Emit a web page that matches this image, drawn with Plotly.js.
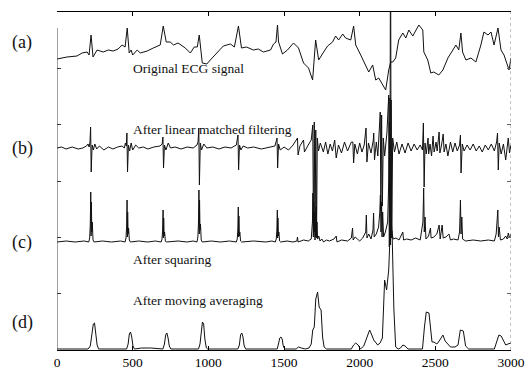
<!DOCTYPE html>
<html><head><meta charset="utf-8">
<script src="https://cdn.plot.ly/plotly-3.0.1.min.js"></script>
<style>html,body{margin:0;padding:0;background:#fff}</style>
</head><body>
<div id="chart" style="width:525px;height:370px"></div>
<script>
// Sample index axis
const xTicks = [0, 500, 1000, 1500, 2000, 2500, 3000];

// (a) Original ECG signal (sample index, amplitude relative to its baseline)
const aX = [0,66,132,166,199,212,225,238,265,305,340,371,404,430,450,464,477,490,500,530,550,596,636,682,702,722,748,770,800,848,881,907,927,940,960,990,1013,1060,1099,1146,1172,1199,1219,1252,1298,1330,1364,1411,1431,1447,1457,1464,1490,1523,1563,1596,1629,1662,1689,1709,1729,1762,1788,1821,1841,1861,1888,1907,1941,1960,1974,2007,2040,2060,2086,2106,2126,2152,2172,2192,2205,2219,2238,2258,2285,2305,2325,2351,2371,2391,2417,2424,2450,2470,2490,2523,2550,2583,2616,2636,2655,2669,2680,2702,2735,2768,2801,2821,2848,2868,2888,2914,2934,2954,2987,3000];
const aY = [0,2,3,6,7,4,24,2,9,7,9,8,10,14,12,31,6,9,4,9,6,8,11,14,33,17,17,14,16,11,6,12,12,24,-4,-5,-1,7,13,15,12,33,11,12,9,10,7,9,15,17,34,17,5,9,16,11,-4,-9,-21,19,-1,7,13,17,23,19,25,21,19,33,14,4,-6,-13,-6,-21,-19,-26,-31,-11,-3,-3,1,19,26,21,29,23,29,34,29,7,-1,-14,-13,-16,-11,1,9,14,9,26,7,-1,1,-3,14,27,24,27,14,31,9,4,-11,1];

// (b) After linear matched filtering
const bX = [0,30,60,100,140,170,195,205,212,218,222,226,232,240,250,262,280,310,340,370,400,430,445,452,458,462,466,472,480,490,500,520,540,570,600,640,680,695,700,704,710,720,735,750,780,820,860,900,925,932,937,941,947,955,970,990,1030,1070,1110,1150,1185,1196,1200,1206,1215,1230,1260,1300,1350,1400,1440,1454,1458,1464,1475,1500,1530,1560,1589,1593,1605,1629,1635,1660,1680,1690,1695,1700,1705,1710,1715,1720,1728,1740,1760,1775,1790,1805,1820,1835,1845,1860,1880,1900,1920,1945,1955,1960,1968,1985,2000,2015,2030,2042,2048,2058,2075,2090,2093,2098,2110,2120,2132,2136,2140,2145,2150,2156,2165,2180,2192,2196,2200,2204,2208,2212,2218,2230,2245,2260,2280,2300,2320,2340,2360,2380,2400,2415,2421,2426,2432,2440,2452,2456,2465,2475,2485,2492,2505,2512,2525,2530,2540,2552,2558,2570,2583,2600,2615,2630,2645,2660,2666,2670,2678,2690,2710,2730,2750,2770,2790,2810,2830,2850,2870,2890,2905,2911,2916,2922,2935,2950,2965,2975,2982,2990,3000];
const bY = [0,1,-1,1,-1,0,2,4,1,6,21,-24,3,-2,4,-1,2,-2,1,-1,1,2,0,5,2,15,-24,3,-3,5,-2,3,0,1,-1,1,2,4,11,-20,3,-2,5,0,1,-1,1,0,3,6,20,-37,5,-2,4,0,1,-1,1,0,3,13,-22,3,-2,2,0,1,-1,1,2,10,-20,4,-2,1,-2,3,10,-7,2,8,-4,3,8,23,-87,26,-92,18,-90,10,-3,5,-4,6,-6,4,-3,8,-10,3,-5,6,-3,6,6,-15,4,-6,5,-4,3,20,-14,5,-5,8,15,-12,6,-8,20,36,-62,33,-58,10,-8,15,53,-99,50,-97,48,-90,10,-4,6,-6,4,-5,5,-3,4,-2,3,-2,25,-39,5,-6,10,-6,4,-8,12,-4,6,-3,16,-5,2,14,-4,4,-8,6,-4,5,-3,3,13,-25,4,-3,3,-2,4,-3,2,-4,3,-2,4,-3,6,15,-22,5,-6,4,-12,6,10,-5,3];

// (c) After squaring
const cX = [0,60,120,180,210,216,220,223,225,227,230,233,238,245,300,360,420,450,456,460,463,465,467,470,473,478,485,540,600,650,688,694,698,701,703,705,708,711,716,722,800,860,900,925,931,935,938,940,942,945,948,953,960,1020,1080,1140,1185,1191,1195,1198,1200,1202,1205,1208,1213,1220,1300,1380,1420,1443,1449,1453,1456,1458,1460,1463,1466,1471,1478,1520,1560,1585,1589,1593,1630,1660,1680,1688,1691,1694,1697,1700,1703,1707,1712,1715,1718,1722,1730,1738,1750,1762,1780,1800,1830,1845,1850,1880,1920,1945,1953,1957,1970,1985,2000,2020,2040,2044,2048,2060,2075,2088,2092,2096,2110,2125,2133,2137,2141,2145,2148,2152,2158,2170,2185,2192,2196,2200,2204,2208,2214,2222,2240,2260,2280,2285,2290,2310,2340,2370,2400,2418,2423,2427,2432,2438,2455,2468,2472,2490,2510,2525,2532,2545,2552,2570,2590,2600,2620,2650,2660,2666,2670,2675,2680,2700,2750,2800,2850,2890,2902,2908,2913,2917,2922,2930,2950,2965,2975,2982,2990,3000];
const cY = [0,1,0,1,0,4,18,50,6,40,10,20,2,0,1,0,1,0,4,15,42,5,30,8,14,2,0,1,0,1,0,3,12,32,4,24,6,10,1,0,1,0,1,0,5,20,52,8,42,12,18,2,0,1,0,1,0,3,12,35,5,26,6,10,1,0,1,0,1,0,3,12,32,4,24,6,10,1,0,1,0,1,5,0,2,1,3,20,49,5,40,10,30,5,35,8,20,3,6,1,3,0,2,1,3,6,0,2,1,4,14,2,5,3,1,4,10,27,4,8,3,12,29,5,8,15,30,47,10,40,5,30,5,10,20,60,120,40,330,25,8,3,4,2,8,10,2,3,2,4,2,20,54,10,25,3,6,14,4,5,8,17,3,17,4,5,8,2,3,2,10,42,8,25,3,1,2,1,2,1,8,20,32,5,15,2,3,6,3,9,4,8];

// (d) After moving averaging
const dX = [0,100,205,220,232,240,248,256,265,275,380,460,470,478,486,494,502,512,560,620,700,710,718,726,734,742,752,935,945,953,961,969,977,987,995,1195,1205,1213,1221,1229,1237,1247,1455,1465,1472,1480,1488,1495,1505,1580,1596,1615,1640,1665,1680,1690,1700,1710,1722,1732,1745,1755,1765,1780,1945,1960,1974,1990,2005,2027,2045,2066,2080,2093,2119,2135,2150,2160,2165,2178,2192,2202,2214,2226,2238,2255,2270,2285,2300,2320,2415,2428,2440,2458,2468,2478,2490,2510,2530,2550,2565,2583,2600,2630,2650,2665,2685,2700,2720,2890,2905,2920,2935,2950,2965,2980,3000];
const dY = [0,0,0,3,16,25,26,18,4,0,0,0,5,15,17,12,3,0,1,1,0,5,14,16,11,3,0,0,5,20,27,25,10,1,0,0,4,14,16,12,3,0,0,6,11,12,10,3,0,0,2,1,0,1,5,19,22,50,57,42,39,12,2,0,0,4,6,4,0,3,10,19,14,9,4,6,11,45,69,59,79,118,118,40,2,0,1,4,3,0,0,22,37,36,20,7,7,5,9,14,8,5,2,2,4,19,18,3,0,0,8,14,13,8,4,5,6];

const panelLabels = ["(a)", "(b)", "(c)", "(d)"];
const captions = ["Original ECG signal", "After linear matched filtering", "After squaring", "After moving averaging"];

// layout helpers (vertical offsets of each stacked signal, in axis units)
const offsets = [291, 202, 108, 1];
const series = [[aX, aY], [bX, bY], [cX, cY], [dX, dY]];
const traces = series.map((s, i) => ({
  x: s[0], y: s[1].map(v => v + offsets[i]), type: 'scatter', mode: 'lines',
  line: {color: '#111', width: 1}, hoverinfo: 'skip', showlegend: false
}));
traces.push({x: [0], y: [0], yaxis: 'y2', mode: 'markers', marker: {opacity: 0}, showlegend: false, hoverinfo: 'skip'});

const serif = 'Liberation Serif, Times New Roman, serif';
const yTop = 338;
const capY = [282, 221, 91, 50];
const labY = [308, 202, 108, 28];
const annotations = [];
captions.forEach((t, i) => annotations.push({text: t, x: 492, y: capY[i], xref: 'x', yref: 'y', xanchor: 'left', yanchor: 'middle', showarrow: false, font: {family: serif, size: 13.5, color: '#111'}}));
panelLabels.forEach((t, i) => annotations.push({text: t, x: -0.077, y: labY[i], xref: 'paper', yref: 'y', xanchor: 'center', yanchor: 'middle', showarrow: false, font: {family: serif, size: 18, color: '#111'}}));

const layout = {
  width: 525, height: 370,
  margin: {l: 57, r: 14, t: 12, b: 20},
  paper_bgcolor: '#fff', plot_bgcolor: '#fff',
  xaxis: {range: [0, 3000], tickvals: xTicks, ticks: 'inside', ticklen: 4, tickcolor: '#000',
    showline: true, mirror: 'ticks', linecolor: '#000', linewidth: 1, showgrid: false, zeroline: false,
    tickfont: {family: serif, size: 13.5, color: '#000'}},
  yaxis: {range: [0, yTop], tick0: 0, dtick: yTop / 6, ticks: 'inside', ticklen: 4, tickcolor: '#333',
    showticklabels: false, showline: false, showgrid: false, zeroline: false},
  yaxis2: {range: [0, yTop], tick0: 0, dtick: yTop / 6, ticks: 'inside', ticklen: 4, tickcolor: '#666',
    overlaying: 'y', side: 'right', showticklabels: false, showline: false, showgrid: false, zeroline: false},
  shapes: [
    {type: 'line', xref: 'x', yref: 'y', x0: 0, x1: 0, y0: 0, y1: 322, line: {color: '#444', width: 1}},
    {type: 'line', xref: 'x', yref: 'y', x0: 3000, x1: 3000, y0: 0, y1: yTop, line: {color: '#888', width: 1, dash: 'dot'}}
  ],
  annotations: annotations
};
Plotly.newPlot('chart', traces, layout, {staticPlot: true, displayModeBar: false});
</script>
</body></html>
